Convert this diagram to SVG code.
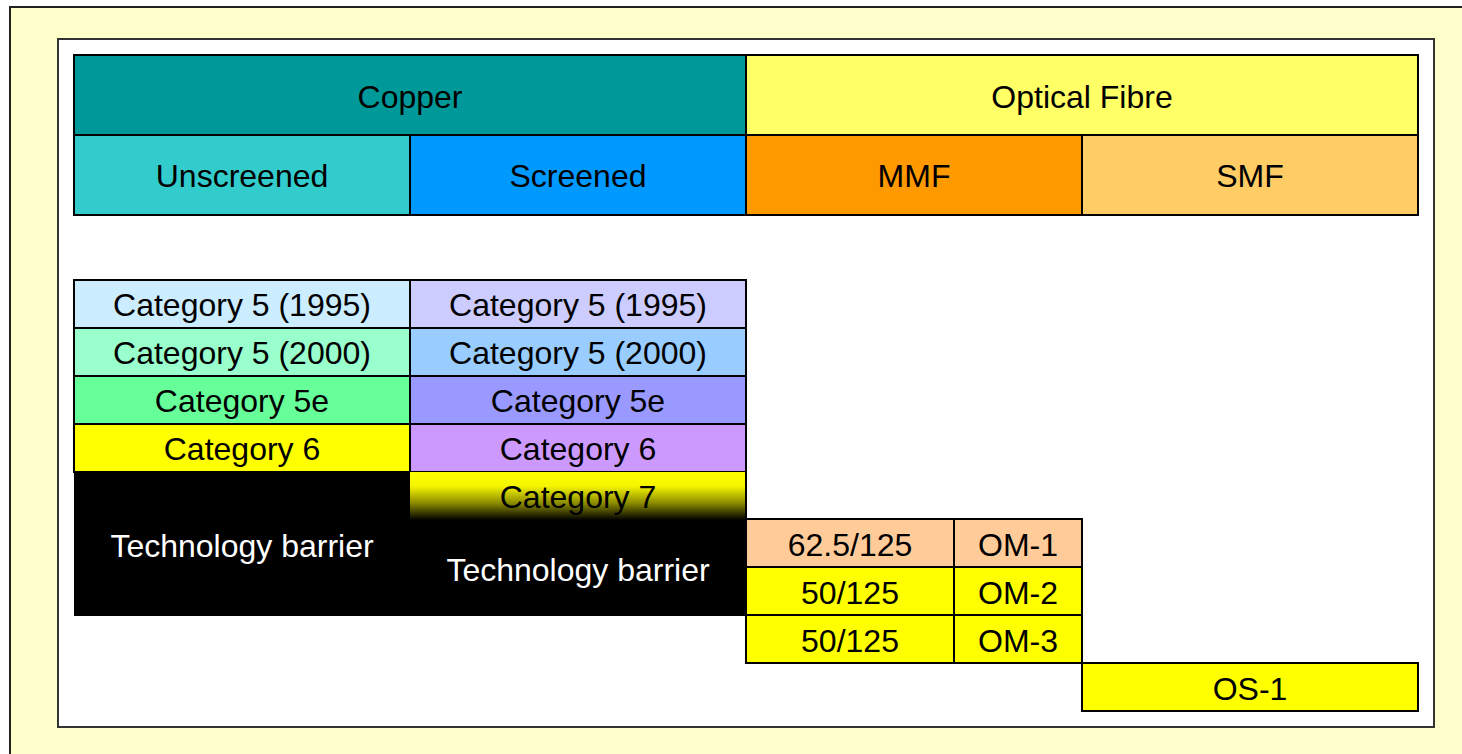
<svg xmlns="http://www.w3.org/2000/svg" width="1462" height="754" viewBox="0 0 1462 754">
<defs>
<style>
.c{stroke:#000;stroke-width:2}
.t{font-family:"Liberation Sans",Arial,sans-serif;font-size:32px;text-anchor:middle;fill:#000}
.w{fill:#fff}
</style>
<linearGradient id="g7" x1="0" y1="0" x2="0" y2="1">
<stop offset="0" stop-color="#FFFF00"/>
<stop offset="0.3" stop-color="#F4F400"/>
<stop offset="0.65" stop-color="#8A8A00"/>
<stop offset="1" stop-color="#000000"/>
</linearGradient>
</defs>
<rect x="10" y="7" width="1470" height="760" fill="#FFFFCC" stroke="#222" stroke-width="2"/>
<rect x="58" y="39" width="1376" height="688" fill="#fff" stroke="#333" stroke-width="2"/>

<g id="header">
<g id="copper"><rect class="c" x="74" y="55" width="672" height="80" fill="#009999"/><text class="t" x="410" y="108">Copper</text></g>
<g id="fibre"><rect class="c" x="746" y="55" width="672" height="80" fill="#FFFF66"/><text class="t" x="1082" y="108">Optical Fibre</text></g>
<g id="unscreened"><rect class="c" x="74" y="135" width="336" height="80" fill="#33CCCC"/><text class="t" x="242" y="187">Unscreened</text></g>
<g id="screened"><rect class="c" x="410" y="135" width="336" height="80" fill="#0099FF"/><text class="t" x="578" y="187">Screened</text></g>
<g id="mmf"><rect class="c" x="746" y="135" width="336" height="80" fill="#FF9900"/><text class="t" x="914" y="187">MMF</text></g>
<g id="smf"><rect class="c" x="1082" y="135" width="336" height="80" fill="#FFCC66"/><text class="t" x="1250" y="187">SMF</text></g>
</g>

<g id="unscreened-cats">
<g id="u-cat5-1995"><rect class="c" x="74" y="280" width="336" height="48" fill="#CCECFF"/><text class="t" x="242" y="316">Category 5 (1995)</text></g>
<g id="u-cat5-2000"><rect class="c" x="74" y="328" width="336" height="48" fill="#99FFCC"/><text class="t" x="242" y="364">Category 5 (2000)</text></g>
<g id="u-cat5e"><rect class="c" x="74" y="376" width="336" height="48" fill="#66FF99"/><text class="t" x="242" y="412">Category 5e</text></g>
<g id="u-cat6"><rect class="c" x="74" y="424" width="336" height="48" fill="#FFFF00"/><text class="t" x="242" y="460">Category 6</text></g>
<g id="u-barrier"><rect x="74" y="472" width="336" height="144" fill="#000"/><text class="t w" x="242" y="557">Technology barrier</text></g>
</g>

<g id="screened-cats">
<g id="s-cat5-1995"><rect class="c" x="410" y="280" width="336" height="48" fill="#CCCCFF"/><text class="t" x="578" y="316">Category 5 (1995)</text></g>
<g id="s-cat5-2000"><rect class="c" x="410" y="328" width="336" height="48" fill="#99CCFF"/><text class="t" x="578" y="364">Category 5 (2000)</text></g>
<g id="s-cat5e"><rect class="c" x="410" y="376" width="336" height="48" fill="#9999FF"/><text class="t" x="578" y="412">Category 5e</text></g>
<g id="s-cat6"><rect class="c" x="410" y="424" width="336" height="48" fill="#CC99FF"/><text class="t" x="578" y="460">Category 6</text></g>
<g id="s-cat7"><rect x="410" y="472" width="336" height="48" fill="url(#g7)"/><line x1="746" y1="472" x2="746" y2="520" stroke="#000" stroke-width="2"/><text class="t" x="578" y="508">Category 7</text></g>
<g id="s-barrier"><rect x="410" y="520" width="336" height="96" fill="#000"/><text class="t w" x="578" y="581">Technology barrier</text></g>
</g>

<g id="fibre-types">
<g id="om1"><rect class="c" x="746" y="519" width="208" height="48" fill="#FFCC99"/><rect class="c" x="954" y="519" width="128" height="48" fill="#FFCC99"/><text class="t" x="850" y="556">62.5/125</text><text class="t" x="1018" y="556">OM-1</text></g>
<g id="om2"><rect class="c" x="746" y="567" width="208" height="48" fill="#FFFF00"/><rect class="c" x="954" y="567" width="128" height="48" fill="#FFFF00"/><text class="t" x="850" y="604">50/125</text><text class="t" x="1018" y="604">OM-2</text></g>
<g id="om3"><rect class="c" x="746" y="615" width="208" height="48" fill="#FFFF00"/><rect class="c" x="954" y="615" width="128" height="48" fill="#FFFF00"/><text class="t" x="850" y="652">50/125</text><text class="t" x="1018" y="652">OM-3</text></g>
<g id="os1"><rect class="c" x="1082" y="663" width="336" height="48" fill="#FFFF00"/><text class="t" x="1250" y="700">OS-1</text></g>
</g>
<g id="connectors"/>
</svg>
